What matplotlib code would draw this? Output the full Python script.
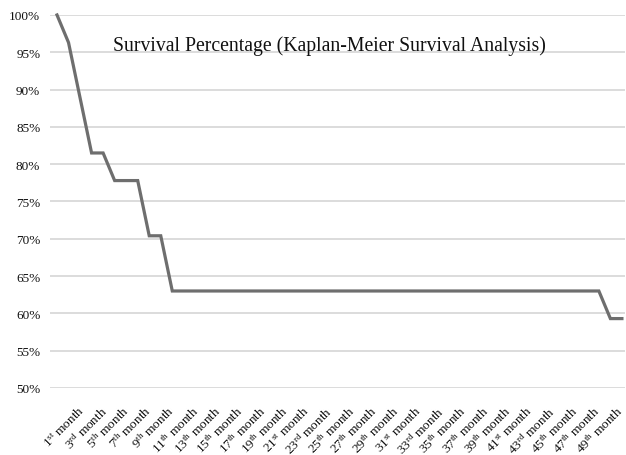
import matplotlib
matplotlib.use("Agg")
import matplotlib.pyplot as plt
from matplotlib.transforms import ScaledTranslation

plt.rcParams["font.family"] = ["Liberation Serif", "DejaVu Serif"]
plt.rcParams["mathtext.fontset"] = "custom"
plt.rcParams["mathtext.rm"] = "Liberation Serif"
plt.rcParams["mathtext.it"] = "Liberation Serif"

TITLE = "Survival Percentage (Kaplan-Meier Survival Analysis)"

months = list(range(1, 51))
# Kaplan-Meier survival (%) per month
survival = (
    [100.0, 96.3, 88.9, 81.5, 81.5, 77.8, 77.8, 77.8, 70.4, 70.4]
    + [63.0] * 38
    + [59.3, 59.3]
)
y_ticks = list(range(50, 101, 5))


def ordinal(n: int) -> str:
    if 10 <= n % 100 <= 20:
        suf = "th"
    else:
        suf = {1: "st", 2: "nd", 3: "rd"}.get(n % 10, "th")
    return f"{n}$^{{\\rm {suf}}}$ month"


label_months = months[::2]
x_labels = [ordinal(m) for m in label_months]

fig = plt.figure(figsize=(6.26, 4.56), dpi=100)
ax = fig.add_axes([0.08, 0.147, 0.919, 0.818])

idx = list(range(len(months)))
ax.plot(idx, survival, color="#6e6e6e", linewidth=2.3, clip_on=False,
        solid_joinstyle="miter", zorder=3)

ax.set_ylim(50, 100)
ax.set_xlim(-0.6, 49.3)
ax.set_yticks(y_ticks)
ax.set_yticklabels([f"{v}%" for v in y_ticks], fontsize=9.5, color="#111111")
ax.yaxis.grid(True, color="#d9d9d9", linewidth=1.3)
ax.set_axisbelow(True)

ax.set_xticks(idx[::2])
ax.set_xticklabels(x_labels, rotation=45, ha="center", va="top",
                   fontsize=9.5, color="#111111")
ax.tick_params(axis="both", length=0)
ax.tick_params(axis="y", pad=7)
ax.tick_params(axis="x", pad=11)

# the category labels sit slightly tighter than the points, as in the original
labels = ax.get_xticklabels()
n = len(labels)
for i, lab in enumerate(labels):
    dx = (5 - 13 * i / (n - 1)) / 72
    lab.set_transform(lab.get_transform() + ScaledTranslation(dx, 0, fig.dpi_scale_trans))

for s in ax.spines.values():
    s.set_visible(False)

ax.text(0.485, 0.92, TITLE, transform=ax.transAxes, ha="center", va="center",
        fontsize=14.2, color="#111111")

fig.savefig("out.png", dpi=100)
